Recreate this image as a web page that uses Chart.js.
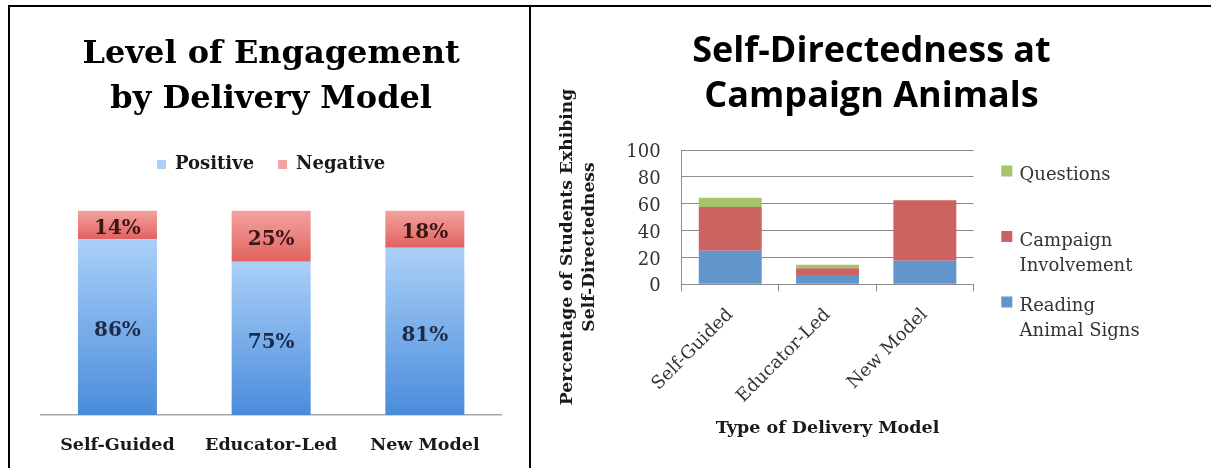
<!DOCTYPE html>
<html><head><meta charset="utf-8">
<script src="https://cdn.jsdelivr.net/npm/chart.js@4.4.1/dist/chart.umd.min.js"></script>
<style>
html,body{margin:0;padding:0;background:#fff;width:1211px;height:468px;overflow:hidden;}
.rule{position:absolute;background:#000;}
#frameTop{left:8px;top:5px;width:1203px;height:2px;}
#frameLeft{left:8px;top:5px;width:2px;height:463px;}
#frameMid{left:529px;top:5px;width:2px;height:463px;}
#c1{position:absolute;left:10px;top:8px;}
#c2{position:absolute;left:532px;top:8px;}
</style></head><body>
<div class="rule" id="frameTop"></div>
<div class="rule" id="frameLeft"></div>
<div class="rule" id="frameMid"></div>
<canvas id="c1" width="519" height="460"></canvas>
<canvas id="c2" width="679" height="460"></canvas>
<script>
// ---------- data ----------
const categories = ['Self-Guided', 'Educator-Led', 'New Model'];

// Left chart: level of engagement (%)
const engagementTitle = ['Level of Engagement', 'by Delivery Model'];
const positiveShare = [86, 75, 81];
const negativeShare = [14, 25, 18];

// Right chart: self-directedness (% of students)
const directednessTitle = ['Self-Directedness at', 'Campaign Animals'];
const readingAnimalSigns = [25, 7, 17.5];
const campaignInvolvement = [32.5, 5, 45];
const questionsAsked = [7, 2.5, 0];
const yTickValues = [0, 20, 40, 60, 80, 100];
const yTitleLines = ['Percentage of Students Exhibing', 'Self-Directedness'];
const xTitle = 'Type of Delivery Model';
const seriesLines = [['Reading', 'Animal Signs'], ['Campaign', 'Involvement'], ['Questions']];

// ---------- left chart ----------
const totals = positiveShare.map((p, i) => p + negativeShare[i]);
const posNorm = positiveShare.map((p, i) => p / totals[i] * 100);
const negNorm = negativeShare.map((n, i) => n / totals[i] * 100);
const normSets = [posNorm, negNorm];

function segmentGradient(idx, topColor, bottomColor, solid) {
  return (c) => {
    const chart = c.chart;
    if (c.type !== 'data' || !chart.scales || !chart.scales.y || !chart.chartArea) return solid;
    const y = chart.scales.y;
    const j = c.dataIndex;
    let start = 0;
    for (let k = 0; k < idx; k++) start += normSets[k][j];
    const y0 = y.getPixelForValue(start);
    const y1 = y.getPixelForValue(start + normSets[idx][j]);
    if (!isFinite(y0) || !isFinite(y1)) return solid;
    const g = chart.ctx.createLinearGradient(0, y1, 0, y0);
    g.addColorStop(0, topColor);
    g.addColorStop(1, bottomColor);
    return g;
  };
}

const serifBold = (size, lh) => ({family: 'DejaVu Serif', size, weight: 'bold', lineHeight: lh || 1.2});
const serif = (size, lh) => ({family: 'DejaVu Serif', size, weight: 'normal', lineHeight: lh || 1.2});

const engagementLabels = {
  id: 'engagementLabels',
  afterDatasetsDraw(chart) {
    const ctx = chart.ctx;
    const sets = [positiveShare, negativeShare];
    const colors = ['#1c2b4a', '#3a1616'];
    ctx.save();
    ctx.font = 'bold 20px "DejaVu Serif"';
    ctx.textAlign = 'center';
    ctx.textBaseline = 'middle';
    sets.forEach((vals, i) => {
      chart.getDatasetMeta(i).data.forEach((el, j) => {
        ctx.fillStyle = colors[i];
        ctx.fillText(vals[j] + '%', el.x, (el.y + el.base) / 2 + 4);
      });
    });
    ctx.restore();
  }
};

new Chart(document.getElementById('c1'), {
  type: 'bar',
  data: {
    labels: categories,
    datasets: [
      {label: 'Positive', data: posNorm, borderWidth: 0, barPercentage: 0.514, categoryPercentage: 1,
       backgroundColor: segmentGradient(0, '#aad0f8', '#4a8cdb', '#8fbcf0')},
      {label: 'Negative', data: negNorm, borderWidth: 0, barPercentage: 0.514, categoryPercentage: 1,
       backgroundColor: segmentGradient(1, '#f4a3a0', '#e0625e', '#ec7e7b')}
    ]
  },
  options: {
    responsive: false, animation: false, events: [],
    layout: {padding: {left: 30.6, right: 27.3, top: 0, bottom: 0}},
    plugins: {
      title: {display: true, text: engagementTitle[0], color: '#000', font: serifBold(32, 1), padding: {top: 30.3, bottom: 0}},
      subtitle: {display: true, text: engagementTitle[1], color: '#000', font: serifBold(32, 1), padding: {top: 13, bottom: 16.2}},
      legend: {display: true, position: 'top',
        labels: {boxWidth: 9, boxHeight: 9, padding: 24, color: '#1a1a1a', font: serifBold(18)}},
      tooltip: {enabled: false}
    },
    scales: {
      x: {stacked: true,
        grid: {display: true, drawOnChartArea: false, drawTicks: false},
        border: {display: true, color: '#a6a6a6', width: 1.5},
        ticks: {padding: 20, color: '#1a1a1a', font: serifBold(17.5)},
        afterFit: (s) => { s.height = 53; }},
      y: {stacked: true, display: false, min: 0, max: 113.3}
    }
  },
  plugins: [engagementLabels]
});

// ---------- right chart ----------
const seriesColors = ['#6096cb', '#cd6361', '#a7c46b'];

const sideLegend = {
  id: 'sideLegend',
  afterDraw(chart) {
    const {ctx, chartArea} = chart;
    const order = [2, 1, 0];
    ctx.save();
    ctx.font = '18px "DejaVu Serif"';
    ctx.textBaseline = 'middle';
    ctx.textAlign = 'left';
    order.forEach((di, k) => {
      const ds = chart.data.datasets[di];
      const y0 = chartArea.top + 25.5 + k * 65.5;
      ctx.fillStyle = ds.backgroundColor;
      ctx.fillRect(chartArea.right + 27.8, y0 - 10, 11, 11);
      ctx.fillStyle = '#333';
      seriesLines[di].forEach((line, m) => ctx.fillText(line, chartArea.right + 46.1, y0 + m * 25));
    });
    ctx.restore();
  }
};

const yTitlePlugin = {
  id: 'yTitle',
  afterDraw(chart) {
    const ctx = chart.ctx;
    ctx.save();
    ctx.font = 'bold 17.2px "DejaVu Serif"';
    ctx.fillStyle = '#1a1a1a';
    ctx.textAlign = 'center';
    ctx.textBaseline = 'middle';
    yTitleLines.forEach((line, i) => {
      ctx.save();
      ctx.translate(35.5 + i * 22, 239);
      ctx.rotate(-Math.PI / 2);
      ctx.fillText(line, 0, 0);
      ctx.restore();
    });
    ctx.restore();
  }
};

new Chart(document.getElementById('c2'), {
  type: 'bar',
  data: {
    labels: categories,
    datasets: [
      {label: seriesLines[0].join(' '), data: readingAnimalSigns, backgroundColor: seriesColors[0], borderWidth: 0, barPercentage: 0.647, categoryPercentage: 1},
      {label: seriesLines[1].join(' '), data: campaignInvolvement, backgroundColor: seriesColors[1], borderWidth: 0, barPercentage: 0.647, categoryPercentage: 1},
      {label: seriesLines[2].join(' '), data: questionsAsked, backgroundColor: seriesColors[2], borderWidth: 0, barPercentage: 0.647, categoryPercentage: 1}
    ]
  },
  options: {
    responsive: false, animation: false, events: [],
    layout: {padding: 0},
    plugins: {
      title: {display: true, text: directednessTitle, color: '#000',
        font: {family: 'Open Sans', size: 36, weight: 'bold', lineHeight: 1.25}, padding: {top: 21.5, bottom: 30.5}},
      legend: {display: false},
      tooltip: {enabled: false}
    },
    scales: {
      x: {stacked: true,
        grid: {display: true, offset: true, drawOnChartArea: false, drawTicks: true, tickLength: 7, color: '#8c8c8c'},
        border: {display: true, color: '#8c8c8c', width: 1},
        ticks: {minRotation: 45, maxRotation: 45, padding: 13, color: '#333', font: serif(18)},
        title: {display: true, text: xTitle, color: '#1a1a1a', font: serifBold(17.5), padding: {top: 0, bottom: 29.5}},
        afterFit: (s) => { s.height = 183.7; }},
      y: {stacked: true, min: 0, max: 100,
        afterBuildTicks: (s) => { s.ticks = yTickValues.map(v => ({value: v})); },
        grid: {color: '#8c8c8c', drawTicks: false},
        border: {display: true, color: '#8c8c8c', width: 1},
        ticks: {padding: 21, labelOffset: 2.5, color: '#333', font: serif(18)},
        afterFit: (s) => { s.width = 149.6; }},
      legendSpace: {type: 'linear', axis: 'y', position: 'right', display: true,
        grid: {display: false}, border: {display: false}, ticks: {display: false},
        afterFit: (s) => { s.width = 237.5; }}
    }
  },
  plugins: [sideLegend, yTitlePlugin]
});
</script>
</body></html>
